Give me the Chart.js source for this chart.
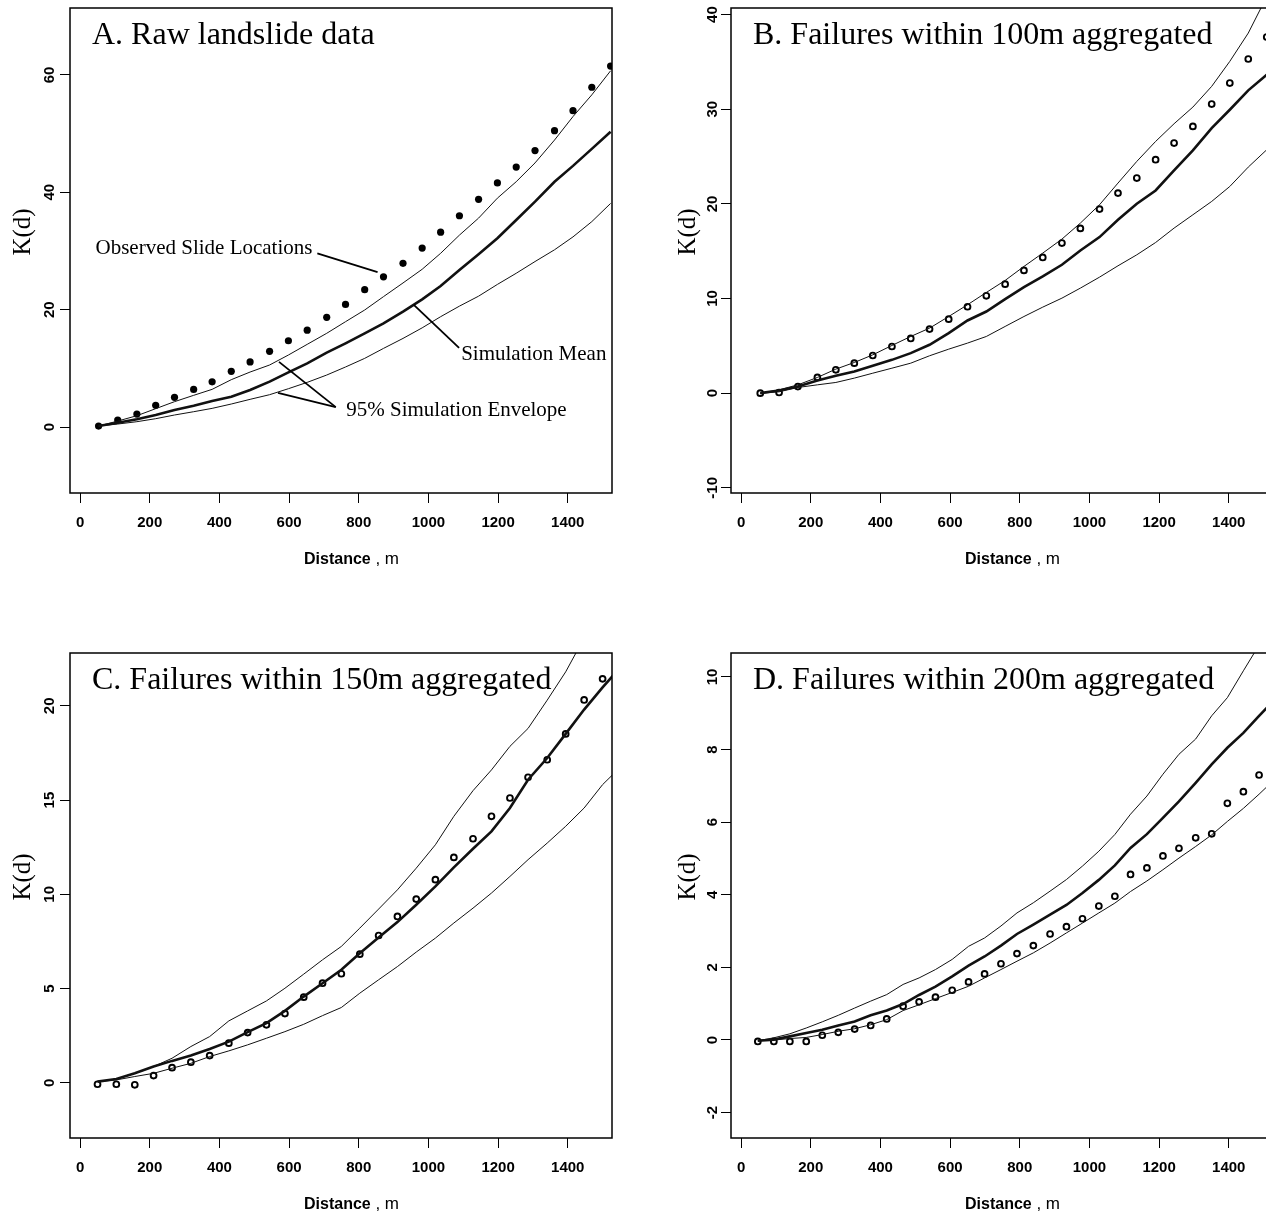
<!DOCTYPE html>
<html>
<head>
<meta charset="utf-8">
<script src="https://cdn.jsdelivr.net/npm/chart.js@4.4.1/dist/chart.umd.min.js"></script>
<style>
  html, body { margin: 0; padding: 0; background: #fff; overflow: hidden; }
  body { width: 1266px; height: 1215px; position: relative; }
  canvas { position: absolute; }
</style>
</head>
<body>
<canvas id="chartA" width="640" height="570" style="left:0;top:0"></canvas>
<canvas id="chartB" width="640" height="570" style="left:661px;top:0"></canvas>
<canvas id="chartC" width="640" height="570" style="left:0;top:645px"></canvas>
<canvas id="chartD" width="640" height="570" style="left:661px;top:645px"></canvas>
<script>
var serif = '"Liberation Serif", "Times New Roman", serif';
var sans = '"Liberation Sans", Arial, sans-serif';

var xTicks = [0, 200, 400, 600, 800, 1000, 1200, 1400];

// A. raw data
var distA = [53, 108, 163, 217, 271, 326, 379, 434, 488, 544, 598, 652, 708, 762, 817, 871, 927, 982, 1035, 1089, 1144, 1198, 1252, 1306, 1362, 1415, 1469, 1523];
var obsA = [0.17, 1.19, 2.2, 3.7, 5.06, 6.4, 7.7, 9.5, 11.1, 12.9, 14.7, 16.5, 18.7, 20.9, 23.4, 25.6, 27.9, 30.5, 33.2, 36.0, 38.8, 41.6, 44.3, 47.1, 50.5, 53.9, 57.9, 61.5];
var upperA = [0.17, 1.02, 1.93, 3.13, 4.32, 5.4, 6.42, 8.07, 9.37, 10.57, 12.27, 14.09, 15.97, 17.95, 19.94, 22.22, 24.55, 26.88, 29.6, 32.7, 35.6, 39.0, 41.8, 45.0, 48.9, 52.9, 56.6, 60.7];
var meanA = [0.17, 0.74, 1.31, 2.05, 2.9, 3.64, 4.43, 5.17, 6.3, 7.73, 9.32, 10.85, 12.67, 14.26, 15.97, 17.67, 19.66, 21.76, 24.03, 26.76, 29.43, 32.16, 35.28, 38.4, 41.8, 44.5, 47.4, 50.3];
var lowerA = [0.17, 0.51, 0.91, 1.42, 2.05, 2.61, 3.18, 3.92, 4.72, 5.51, 6.53, 7.61, 8.86, 10.23, 11.7, 13.4, 15.1, 16.9, 18.8, 20.6, 22.3, 24.3, 26.2, 28.2, 30.2, 32.4, 35.0, 38.1];
var yTicksA = [0, 20, 40, 60];

// B. 100m aggregated
var distB = [55, 109, 163, 219, 272, 325, 378, 433, 487, 541, 596, 650, 704, 758, 812, 866, 921, 974, 1029, 1082, 1136, 1190, 1243, 1297, 1351, 1403, 1456, 1509];
var obsB = [0, 0.07, 0.7, 1.66, 2.47, 3.17, 3.98, 4.93, 5.78, 6.77, 7.82, 9.13, 10.29, 11.52, 12.97, 14.34, 15.86, 17.41, 19.45, 21.14, 22.73, 24.67, 26.43, 28.19, 30.55, 32.77, 35.31, 37.63];
var upperB = [0, 0.35, 0.88, 1.66, 2.54, 3.24, 4.05, 5.04, 5.99, 6.87, 8.1, 9.34, 10.64, 11.91, 13.39, 14.8, 16.28, 17.97, 19.91, 22.2, 24.49, 26.6, 28.47, 30.23, 32.42, 35.06, 38.05, 41.9];
var meanB = [0, 0.28, 0.7, 1.34, 1.83, 2.29, 2.89, 3.52, 4.23, 5.11, 6.34, 7.68, 8.63, 9.94, 11.21, 12.33, 13.57, 15.08, 16.49, 18.32, 20.01, 21.42, 23.54, 25.65, 28.01, 29.95, 32.0, 33.65];
var lowerB = [0, 0.14, 0.6, 0.88, 1.13, 1.59, 2.11, 2.64, 3.17, 3.95, 4.65, 5.29, 5.99, 7.05, 8.1, 9.09, 10.04, 11.1, 12.26, 13.46, 14.62, 15.92, 17.44, 18.85, 20.26, 21.84, 23.89, 25.72];
var yTicksB = [-10, 0, 10, 20, 30, 40];

// C. 150m aggregated (last distance only carries the curves past the frame)
var distC = [50, 104, 157, 211, 264, 318, 372, 427, 481, 535, 588, 642, 696, 750, 803, 857, 911, 965, 1020, 1073, 1128, 1181, 1234, 1286, 1341, 1394, 1447, 1500, 1554];
var obsC = [-0.07, -0.07, -0.1, 0.39, 0.81, 1.1, 1.45, 2.11, 2.67, 3.08, 3.68, 4.55, 5.29, 5.79, 6.83, 7.82, 8.83, 9.75, 10.78, 11.96, 12.95, 14.14, 15.11, 16.21, 17.14, 18.51, 20.31, 21.43];
var upperC = [0.07, 0.21, 0.5, 0.87, 1.31, 1.93, 2.46, 3.29, 3.82, 4.35, 5.02, 5.77, 6.53, 7.24, 8.21, 9.22, 10.24, 11.39, 12.63, 14.14, 15.5, 16.6, 17.85, 18.8, 20.3, 21.8, 23.6, 25.3, 27.0];
var meanC = [0.07, 0.21, 0.51, 0.87, 1.17, 1.45, 1.8, 2.19, 2.69, 3.17, 3.82, 4.58, 5.29, 6.0, 6.88, 7.71, 8.53, 9.45, 10.42, 11.43, 12.42, 13.34, 14.58, 16.08, 17.23, 18.51, 19.8, 20.98, 22.1];
var lowerC = [0.07, 0.16, 0.34, 0.51, 0.78, 1.04, 1.4, 1.7, 2.02, 2.37, 2.72, 3.11, 3.57, 4.0, 4.76, 5.47, 6.17, 6.94, 7.68, 8.48, 9.27, 10.07, 10.95, 11.84, 12.72, 13.61, 14.58, 15.82, 16.8];
var yTicksC = [0, 5, 10, 15, 20];

// D. 200m aggregated
var distD = [48, 94, 140, 187, 233, 279, 326, 372, 418, 465, 511, 558, 606, 653, 699, 746, 792, 839, 887, 934, 980, 1027, 1073, 1118, 1165, 1211, 1257, 1305, 1351, 1396, 1442, 1487, 1534];
var obsD = [-0.04, -0.04, -0.04, -0.04, 0.13, 0.21, 0.3, 0.4, 0.58, 0.93, 1.05, 1.18, 1.37, 1.6, 1.82, 2.1, 2.38, 2.6, 2.92, 3.12, 3.34, 3.69, 3.96, 4.56, 4.74, 5.07, 5.28, 5.57, 5.68, 6.52, 6.84, 7.3];
var upperD = [-0.02, 0.06, 0.17, 0.33, 0.5, 0.68, 0.88, 1.07, 1.25, 1.53, 1.71, 1.94, 2.22, 2.58, 2.81, 3.14, 3.5, 3.78, 4.1, 4.42, 4.79, 5.2, 5.66, 6.22, 6.72, 7.32, 7.87, 8.29, 8.93, 9.43, 10.17, 10.88, 11.6];
var meanD = [-0.02, 0.01, 0.1, 0.19, 0.28, 0.4, 0.51, 0.68, 0.81, 0.99, 1.24, 1.47, 1.75, 2.05, 2.3, 2.6, 2.92, 3.18, 3.45, 3.72, 4.05, 4.41, 4.81, 5.29, 5.67, 6.12, 6.57, 7.08, 7.59, 8.05, 8.46, 8.93, 9.4];
var lowerD = [-0.02, 0.0, 0.04, 0.07, 0.15, 0.24, 0.31, 0.42, 0.56, 0.81, 0.97, 1.14, 1.31, 1.48, 1.71, 1.94, 2.17, 2.4, 2.67, 2.95, 3.22, 3.5, 3.77, 4.09, 4.38, 4.69, 5.01, 5.33, 5.65, 6.02, 6.38, 6.77, 7.2];
var yTicksD = [-2, 0, 2, 4, 6, 8, 10];

// callouts on panel A, in data units
var notesA = [
  { text: 'Observed Slide Locations', x: 667, y: 29.5, align: 'right', leaders: [[681, 29.6, 854, 26.4]] },
  { text: 'Simulation Mean', x: 1094, y: 11.5, align: 'left', leaders: [[1088, 13.5, 958, 20.8]] },
  { text: '95% Simulation Envelope', x: 764, y: 1.9, align: 'left', leaders: [[734, 3.4, 571, 11.1], [734, 3.4, 568, 5.8]] }
];

function xy(d, v) {
  return v.map(function (val, i) { return { x: d[i], y: val }; });
}

var framePlugin = {
  id: 'rFrame',
  afterDatasetsDraw: function (chart, args, opts) {
    var ctx = chart.ctx, a = chart.chartArea;
    var sx = chart.scales.x, sy = chart.scales.y;
    ctx.save();
    ctx.strokeStyle = '#000';
    ctx.lineWidth = 1.5;
    ctx.strokeRect(a.left, a.top, a.right - a.left, a.bottom - a.top);

    ctx.fillStyle = '#000';
    ctx.textAlign = 'left';
    ctx.textBaseline = 'alphabetic';
    ctx.font = '32px ' + serif;
    ctx.fillText(opts.title, a.left + 22, a.top + 36);

    ctx.font = 'bold 16px ' + sans;
    var w = ctx.measureText('Distance').width;
    ctx.fillText('Distance', a.left + 234, a.bottom + 71);
    ctx.font = '17px ' + sans;
    ctx.fillText(' , m', a.left + 234 + w, a.bottom + 71);

    (opts.notes || []).forEach(function (n) {
      ctx.lineWidth = 1.8;
      n.leaders.forEach(function (l) {
        ctx.beginPath();
        ctx.moveTo(sx.getPixelForValue(l[0]), sy.getPixelForValue(l[1]));
        ctx.lineTo(sx.getPixelForValue(l[2]), sy.getPixelForValue(l[3]));
        ctx.stroke();
      });
      ctx.font = '21px ' + serif;
      ctx.textAlign = n.align;
      ctx.fillText(n.text, sx.getPixelForValue(n.x), sy.getPixelForValue(n.y));
    });

    ctx.translate(a.left + opts.ylabDx, a.top + 224);
    ctx.rotate(-Math.PI / 2);
    ctx.font = '25px ' + serif;
    ctx.textAlign = 'center';
    ctx.textBaseline = 'middle';
    ctx.fillText('K(d)', 0, 0);
    ctx.restore();
  }
};

var tickFont = { family: sans, size: 15, weight: 'bold' };

function makePanel(id, p) {
  var line = function (d, v, wd) {
    return { type: 'line', data: xy(d, v), borderColor: '#111', borderWidth: wd,
             pointRadius: 0, tension: 0, fill: false };
  };
  var dots = p.filled
    ? { type: 'scatter', data: xy(p.dist, p.obs), pointRadius: 3.6, pointBorderWidth: 0,
        pointBackgroundColor: '#000', pointBorderColor: '#000' }
    : { type: 'scatter', data: xy(p.dist, p.obs), pointRadius: 2.9, pointBorderWidth: 1.9,
        pointBackgroundColor: 'rgba(0,0,0,0)', pointBorderColor: '#000' };

  new Chart(document.getElementById(id), {
    data: {
      datasets: [line(p.dist, p.lower, 1), line(p.dist, p.upper, 1), line(p.dist, p.mean, 2.6), dots]
    },
    options: {
      responsive: false,
      animation: false,
      devicePixelRatio: 1,
      layout: { padding: { top: 8, right: 28, left: 0, bottom: 0 } },
      plugins: {
        legend: { display: false },
        tooltip: { enabled: false },
        rFrame: { title: p.title, ylabDx: p.ylabDx, notes: p.notes }
      },
      scales: {
        x: {
          type: 'linear', min: -29, max: 1527,
          afterBuildTicks: function (s) { s.ticks = xTicks.map(function (v) { return { value: v }; }); },
          afterFit: function (s) { s.height = 77; s.paddingLeft = 0; s.paddingRight = 0; },
          grid: { drawOnChartArea: false, drawTicks: true, tickLength: 10, color: '#000', lineWidth: 1 },
          border: { display: false },
          ticks: { color: '#000', font: tickFont, padding: 11, maxRotation: 0, autoSkip: false,
                   callback: function (v) { return String(v); } }
        },
        y: {
          type: 'linear', min: p.ymin, max: p.ymax,
          afterBuildTicks: function (s) { s.ticks = p.yTicks.map(function (v) { return { value: v }; }); },
          afterFit: function (s) { s.width = 70; s.paddingTop = 0; s.paddingBottom = 0; },
          grid: { drawOnChartArea: false, drawTicks: true, tickLength: 10, color: '#000', lineWidth: 1 },
          border: { display: false },
          ticks: { color: '#000', font: tickFont, padding: p.tickPad, minRotation: 90, maxRotation: 90,
                   crossAlign: 'center', autoSkip: false,
                   callback: function (v) { return String(v); } }
        }
      }
    },
    plugins: [framePlugin]
  });
}

makePanel('chartA', { title: 'A. Raw landslide data', dist: distA, obs: obsA, upper: upperA, mean: meanA, lower: lowerA,
  yTicks: yTicksA, ymin: -11.24, ymax: 71.4, filled: true, tickPad: 1.5, ylabDx: -47, notes: notesA });
makePanel('chartB', { title: 'B. Failures within 100m aggregated', dist: distB, obs: obsB, upper: upperB, mean: meanB, lower: lowerB,
  yTicks: yTicksB, ymin: -10.55, ymax: 40.7, filled: false, tickPad: -2.3, ylabDx: -43 });
makePanel('chartC', { title: 'C. Failures within 150m aggregated', dist: distC, obs: obsC, upper: upperC, mean: meanC, lower: lowerC,
  yTicks: yTicksC, ymin: -2.92, ymax: 22.8, filled: false, tickPad: 1.5, ylabDx: -47 });
makePanel('chartD', { title: 'D. Failures within 200m aggregated', dist: distD, obs: obsD, upper: upperD, mean: meanD, lower: lowerD,
  yTicks: yTicksD, ymin: -2.7, ymax: 10.66, filled: false, tickPad: -0.5, ylabDx: -43 });
</script>
</body>
</html>
